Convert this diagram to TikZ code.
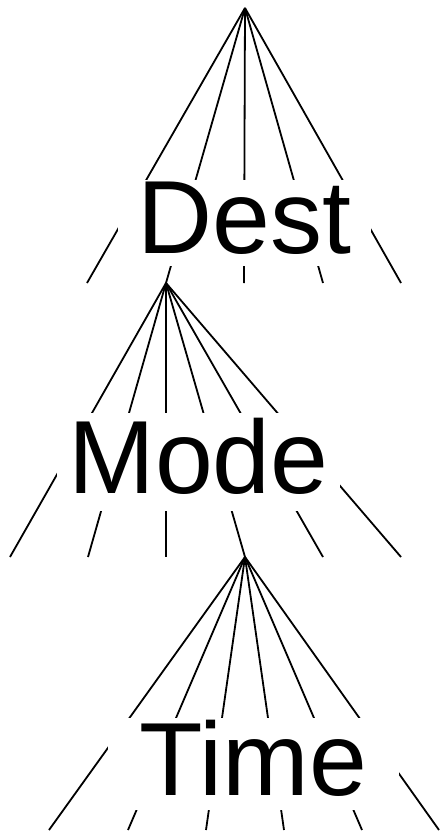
\documentclass[tikz,border=0pt]{standalone}
\usepackage{fontspec}
\setmainfont{Liberation Sans}
\usetikzlibrary{positioning}

\begin{document}
\begin{tikzpicture}[
  x=1pt, y=-1pt,
  edge/.style={line width=1.8pt},
  varbox/.style={fill=white, inner sep=0pt, text height=74pt, text depth=12pt, font=\fontsize{104}{104}\selectfont}
]
\useasboundingbox (0,0) rectangle (439,832);
% tree points
\coordinate (top) at (245,8);
\coordinate (d1) at (87,283);
\coordinate (d2) at (166,283);
\coordinate (d3) at (244,283);
\coordinate (d4) at (323,283);
\coordinate (d5) at (401,283);
\coordinate (m1) at (10,557);
\coordinate (m2) at (88,557);
\coordinate (m3) at (166,557);
\coordinate (m4) at (245,557);
\coordinate (m5) at (323,557);
\coordinate (m6) at (401,557);
\coordinate (t1) at (49,830);
\coordinate (t2) at (128,830);
\coordinate (t3) at (206,830);
\coordinate (t4) at (284,830);
\coordinate (t5) at (362,830);
\coordinate (t6) at (439,830);
% edges
\draw[edge] (top) -- (d1);
\draw[edge] (top) -- (d2);
\draw[edge] (top) -- (d3);
\draw[edge] (top) -- (d4);
\draw[edge] (top) -- (d5);
\draw[edge] (d2) -- (m1);
\draw[edge] (d2) -- (m2);
\draw[edge] (d2) -- (m3);
\draw[edge] (d2) -- (m4);
\draw[edge] (d2) -- (m5);
\draw[edge] (d2) -- (m6);
\draw[edge] (m4) -- (t1);
\draw[edge] (m4) -- (t2);
\draw[edge] (m4) -- (t3);
\draw[edge] (m4) -- (t4);
\draw[edge] (m4) -- (t5);
\draw[edge] (m4) -- (t6);
% labels
\node[varbox, minimum width=253pt, minimum height=85pt] (dest) at (244.5,222.5) {Dest};
\node[varbox, minimum width=283pt, minimum height=98pt] (mode) at (198.5,462) {Mode};
\node[varbox, minimum width=291pt, minimum height=92pt] (time) at (253.5,764) {Time};
\end{tikzpicture}
\end{document}
